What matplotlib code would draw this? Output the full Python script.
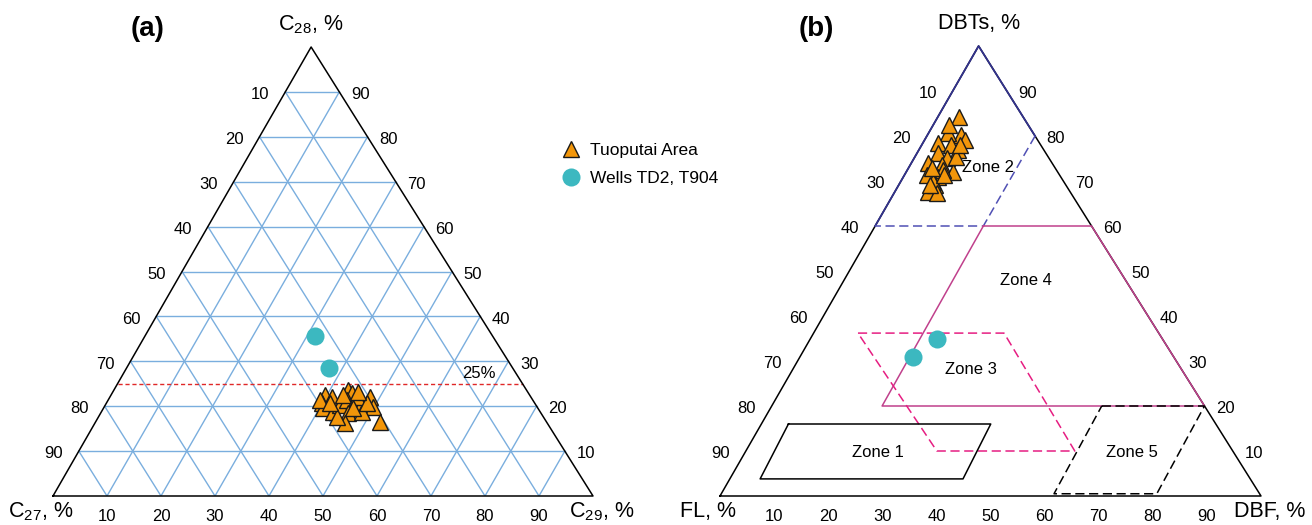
import matplotlib
matplotlib.use("Agg")
import matplotlib.pyplot as plt

plt.rcParams['font.family'] = ['Liberation Sans', 'DejaVu Sans']
plt.rcParams['mathtext.fontset'] = 'custom'
plt.rcParams['mathtext.rm'] = 'Liberation Sans'
plt.rcParams['mathtext.it'] = 'Liberation Sans:italic'

# ---- data, panel (a): steranes C27 / C28 / C29 (%) ----
tuo_c27 = [37.9, 36.8, 39.4, 39.8, 38.4, 36.2, 33.0, 32.7, 34.4, 33.2,
           32.8, 35.7, 37.4, 29.8, 30.4, 30.8, 33.0, 38.2, 32.2, 34.5,
           39.4, 31.0, 34.2, 37.9, 31.4]
tuo_c28 = [22.5, 22.0, 20.7, 19.6, 18.7, 20.3, 23.6, 22.9, 21.4, 20.9,
           19.8, 18.5, 16.3, 22.0, 19.8, 16.5, 18.7, 17.6, 22.0, 22.5,
           21.4, 20.7, 19.6, 20.7, 23.2]
tuo_c29 = [100 - a - b for a, b in zip(tuo_c27, tuo_c28)]

well_c27 = [32.9, 34.0]
well_c28 = [35.6, 28.5]
well_c29 = [100 - a - b for a, b in zip(well_c27, well_c28)]

c28_cut = 25  # red dashed reference line

# ---- data, panel (b): DBTs / FL / DBF (%) ----
tuo_dbts = [84.2, 80.2, 80.7, 79.1, 78.4, 78.0, 76.9, 76.2, 75.1, 74.0,
            73.6, 72.0, 71.3, 70.9, 67.6, 69.1, 69.8, 72.4, 67.3, 75.3,
            82.4, 71.3, 72.9, 78.0, 69.1]
tuo_dbf = [4.0, 6.3, 3.5, 7.4, 2.8, 5.5, 7.2, 3.8, 6.0, 3.0,
           5.8, 8.6, 4.1, 6.4, 6.1, 6.7, 6.0, 6.6, 7.9, 7.7,
           3.0, 7.4, 4.3, 7.0, 5.7]
well_dbts = [30.9, 34.9]
well_dbf = [20.9, 23.4]

# zone outlines as (DBTs, DBF) corners
zone1 = [(16, 5), (16, 42.4), (3.8, 43.1), (3.8, 5.6)]
zone2_edge = [(60, 0), (100, 0), (80, 20)]
zone2_inner = [(80, 20), (60, 20), (60, 0)]
zone3 = [(36.2, 8.2), (36.2, 35.2), (10, 60.8), (10, 35.3)]
zone4 = [(60, 20), (60, 40), (20, 80), (20, 20.4), (60, 20)]
zone5 = [(20, 61), (20, 80), (0.5, 80.5), (0.5, 61.5)]
zone_names = ['Zone 1', 'Zone 2', 'Zone 3', 'Zone 4', 'Zone 5']
zone_text_xy = [(29.2, 9.6), (49.5, 73.1), (46.4, 28.0), (56.6, 48.0), (76.2, 9.6)]

ticks = [10, 20, 30, 40, 50, 60, 70, 80, 90]

ORANGE = '#f2960a'
CYAN = '#3cb8c0'
GRID = '#7aaede'

# apex of the original drawing is a little left of centre
APEX = 47.8


def r_xy(top, right):
    """top = component at apex, right = component at bottom-right corner"""
    return right + top * APEX / 100, top


def to_xy(top, right):
    pts = [r_xy(t, r) for t, r in zip(top, right)]
    return [p[0] for p in pts], [p[1] for p in pts]


def outline(ax, color='black', lw=1.1):
    xs = [0, 100, APEX, 0]
    ys = [0, 0, 100, 0]
    ax.plot(xs, ys, color=color, lw=lw, zorder=3, clip_on=False)


def edge_labels(ax, fs=12):
    for v in ticks:
        # left edge: value of left-corner component (top = 100 - v)
        x, y = r_xy(100 - v, 0)
        ax.annotate(str(v), (x, y), xytext=(-18, -2), textcoords='offset points',
                    ha='center', va='center', fontsize=fs)
        # right edge: value of top component
        x, y = r_xy(v, 100 - v)
        ax.annotate(str(v), (x, y), xytext=(15, -2), textcoords='offset points',
                    ha='center', va='center', fontsize=fs)
        # bottom edge: value of right-corner component
        x, y = r_xy(0, v)
        ax.annotate(str(v), (x, y), xytext=(0, -15), textcoords='offset points',
                    ha='center', va='center', fontsize=fs)


def corner_labels(ax, top, left, right, fs=15.5):
    ax.annotate(top, r_xy(100, 0), xytext=(0, 16), textcoords='offset points',
                ha='center', va='center', fontsize=fs)
    ax.annotate(left, r_xy(0, 0), xytext=(-9, -11), textcoords='offset points',
                ha='center', va='center', fontsize=fs)
    ax.annotate(right, r_xy(0, 100), xytext=(6, -11), textcoords='offset points',
                ha='center', va='center', fontsize=fs)


def zone_line(ax, pts, color, ls='-', lw=1.1, close=False):
    if close:
        pts = list(pts) + [pts[0]]
    xy = [r_xy(t, r) for t, r in pts]
    ax.plot([a for a, b in xy], [b for a, b in xy], color=color, ls=ls, lw=lw,
            zorder=4, clip_on=False)


fig = plt.figure(figsize=(13.12, 5.25), dpi=100)
W, H = 1312, 525

# ---------------- panel (a) ----------------
axa = fig.add_axes([53 / W, (H - 496) / H, 540 / W, 449 / H])
axa.set_xlim(0, 100)
axa.set_ylim(0, 100)
axa.axis('off')

for v in ticks:
    # constant top (C28)
    p, q = r_xy(v, 0), r_xy(v, 100 - v)
    axa.plot([p[0], q[0]], [p[1], q[1]], color=GRID, lw=1, zorder=1)
    # constant right (C29)
    p, q = r_xy(0, v), r_xy(100 - v, v)
    axa.plot([p[0], q[0]], [p[1], q[1]], color=GRID, lw=1, zorder=1)
    # constant left (C27)
    p, q = r_xy(0, 100 - v), r_xy(100 - v, 0)
    axa.plot([p[0], q[0]], [p[1], q[1]], color=GRID, lw=1, zorder=1)

p, q = r_xy(c28_cut, 0), r_xy(c28_cut, 100 - c28_cut)
axa.plot([p[0], q[0]], [p[1], q[1]], color='#e02828', lw=1, ls=(0, (3, 2)), zorder=2)
axa.text(q[0] - 5, q[1] + 0.6, '25%', ha='right', va='bottom', fontsize=12)

outline(axa)

x, y = to_xy(well_c28, well_c29)
axa.plot(x, y, 'o', ms=13, color=CYAN, mec='none', ls='none', zorder=5,
         clip_on=False, label='Wells TD2, T904')
x, y = to_xy(tuo_c28, tuo_c29)
axa.plot(x, y, '^', ms=12, color=ORANGE, mec='#1a1a1a', mew=1, ls='none',
         zorder=6, clip_on=False, label='Tuoputai Area')

edge_labels(axa)
corner_labels(axa, 'C$_{28}$, %', 'C$_{27}$, %', 'C$_{29}$, %')

# ---------------- panel (b) ----------------
axb = fig.add_axes([720 / W, (H - 496) / H, 541 / W, 450 / H])
axb.set_xlim(0, 100)
axb.set_ylim(0, 100)
axb.axis('off')

outline(axb)

zone_line(axb, zone2_edge, '#32328c', lw=1.3)
zone_line(axb, zone2_inner, '#5050b4', ls=(0, (6, 3)))
zone_line(axb, zone4, '#c0408c')
zone_line(axb, zone3, '#e61e82', ls=(0, (6, 3)), close=True)
zone_line(axb, zone1, 'black', close=True)
zone_line(axb, zone5, 'black', ls=(0, (6, 3)), close=True)

for name, (tx, ty) in zip(zone_names, zone_text_xy):
    axb.text(tx, ty, name, ha='center', va='center', fontsize=12, zorder=7)

x, y = to_xy(well_dbts, well_dbf)
axb.plot(x, y, 'o', ms=13, color=CYAN, mec='none', ls='none', zorder=5,
         clip_on=False)
x, y = to_xy(tuo_dbts, tuo_dbf)
axb.plot(x, y, '^', ms=12, color=ORANGE, mec='#1a1a1a', mew=1, ls='none',
         zorder=6, clip_on=False)

edge_labels(axb)
corner_labels(axb, 'DBTs, %', 'FL, %', 'DBF, %')

fig.text(148 / W, 1 - 29 / H, '(a)', fontsize=20, fontweight='bold',
         ha='center', va='center')
fig.text(816 / W, 1 - 29 / H, '(b)', fontsize=20, fontweight='bold',
         ha='center', va='center')

h, l = axa.get_legend_handles_labels()
fig.legend(h[::-1], l[::-1], loc='upper left', bbox_to_anchor=(562 / W, 1 - 143 / H),
           frameon=False, fontsize=12.5, handlelength=1.0, handletextpad=0.6,
           labelspacing=0.75, borderpad=0, borderaxespad=0, numpoints=1)

fig.savefig('out.png', dpi=100)
